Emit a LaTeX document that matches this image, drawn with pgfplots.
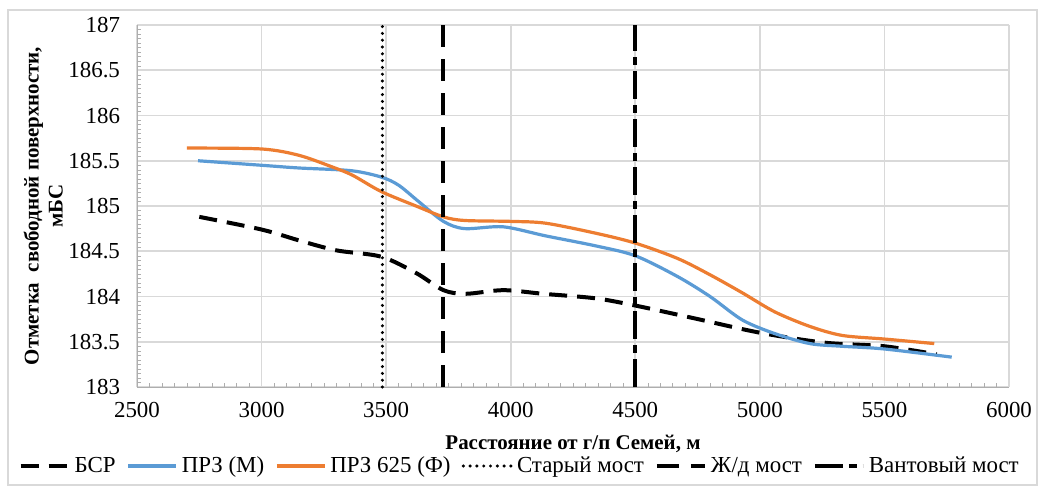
\documentclass[border=0pt]{standalone}
\usepackage{pgfplots}
\pgfplotsset{compat=1.18}
\usepackage{fontspec}
\setmainfont{Liberation Serif}
\usetikzlibrary{calc}
\definecolor{cblue}{HTML}{5B9BD5}
\definecolor{corange}{HTML}{ED7D31}
\definecolor{cgrid}{HTML}{D9D9D9}
\begin{document}
\begin{tikzpicture}
\begin{axis}[
  name=ax,
  scale only axis,
  width=436bp, height=181bp,
  xmin=2500, xmax=6000, ymin=183, ymax=187,
  xtick distance=500, ytick distance=0.5,
  minor x tick num=9, minor y tick num=9,
  axis x line=bottom, axis y line=left,
  axis line style={draw=cgrid!80!black, -},
  major tick length=0pt, minor tick length=2bp,
  tick style={draw=cgrid!80!black},
  tick align=inside,
  grid=major, major grid style={draw=cgrid, line width=0.8bp},
  tick label style={font=\fontsize{11.5}{14}\selectfont, black},
  /pgf/number format/assume math mode=true,
  /pgf/number format/set thousands separator={},
  yticklabel style={xshift=-5bp},
  xticklabel style={yshift=-4bp},
  xlabel={\textbf{Расстояние от г/п Семей, м}},
  ylabel={\textbf{Отметка\ \ свободной поверхности,}\\\textbf{мБС}},
  label style={font=\fontsize{10.5}{12}\selectfont},
  ylabel style={align=center, yshift=-4bp},
  xlabel style={yshift=-2bp},
  legend columns=6,
  legend style={draw=none, at={(0.44,-0.18)}, anchor=north,
    font=\fontsize{11.5}{13}\selectfont,
    /tikz/every even column/.append style={column sep=3.5bp},
    inner sep=0pt},
  legend image code/.code={\draw[#1] (0bp,0bp) -- (24bp,0bp);},
  clip=false,
]
\addplot[black, line width=2bp, dash pattern=on 9bp off 5bp, smooth] coordinates {
(2750,184.88) (3000,184.74) (3150,184.62) (3300,184.51) (3480,184.44) (3620,184.26) (3730,184.07) (3820,184.03) (3970,184.07) (4130,184.03) (4340,183.98) (4500,183.90) (4735,183.76) (5000,183.60) (5260,183.49) (5500,183.45) (5710,183.36)};
\addlegendentry{БСР}
\addplot[cblue, line width=1.6bp, smooth] coordinates {
(2745,185.50) (3000,185.45) (3150,185.42) (3360,185.39) (3480,185.32) (3550,185.23) (3630,185.05) (3730,184.83) (3815,184.75) (3970,184.77) (4140,184.67) (4340,184.56) (4500,184.45) (4670,184.22) (4800,184.00) (4930,183.74) (5060,183.59) (5200,183.48) (5330,183.45) (5500,183.42) (5770,183.33)};
\addlegendentry{ПРЗ (М)}
\addplot[corange, line width=1.6bp, smooth] coordinates {
(2700,185.64) (3000,185.63) (3150,185.56) (3285,185.43) (3365,185.34) (3480,185.16) (3620,185.00) (3730,184.88) (3815,184.84) (4000,184.83) (4140,184.81) (4340,184.70) (4500,184.59) (4670,184.42) (4800,184.24) (4930,184.04) (5060,183.83) (5200,183.67) (5330,183.57) (5500,183.53) (5700,183.48)};
\addlegendentry{ПРЗ 625 (Ф)}
\addplot[black, line width=1.7bp, dash pattern=on 0bp off 3.4bp, line cap=round] coordinates {(3485,183) (3485,187)};
\addlegendentry{Старый мост}
\addplot[black, line width=2bp, dash pattern=on 11bp off 6bp] coordinates {(3727,183) (3727,187)};
\addlegendentry{Ж/д мост}
\addplot[black, line width=2bp, dash pattern=on 14bp off 3bp on 4bp off 3bp] coordinates {(4500,183) (4500,187)};
\addlegendentry{Вантовый мост}
\end{axis}
\pgfresetboundingbox
\path[use as bounding box] ($(ax.south west)+(-68.5bp,-52.5bp)$) rectangle ($(ax.north east)+(17bp,12.5bp)$);
\draw[cgrid, line width=0.8bp] ($(ax.south west)+(-64.5bp,-49bp)$) rectangle ($(ax.north east)+(14bp,7.5bp)$);
\end{tikzpicture}
\end{document}
